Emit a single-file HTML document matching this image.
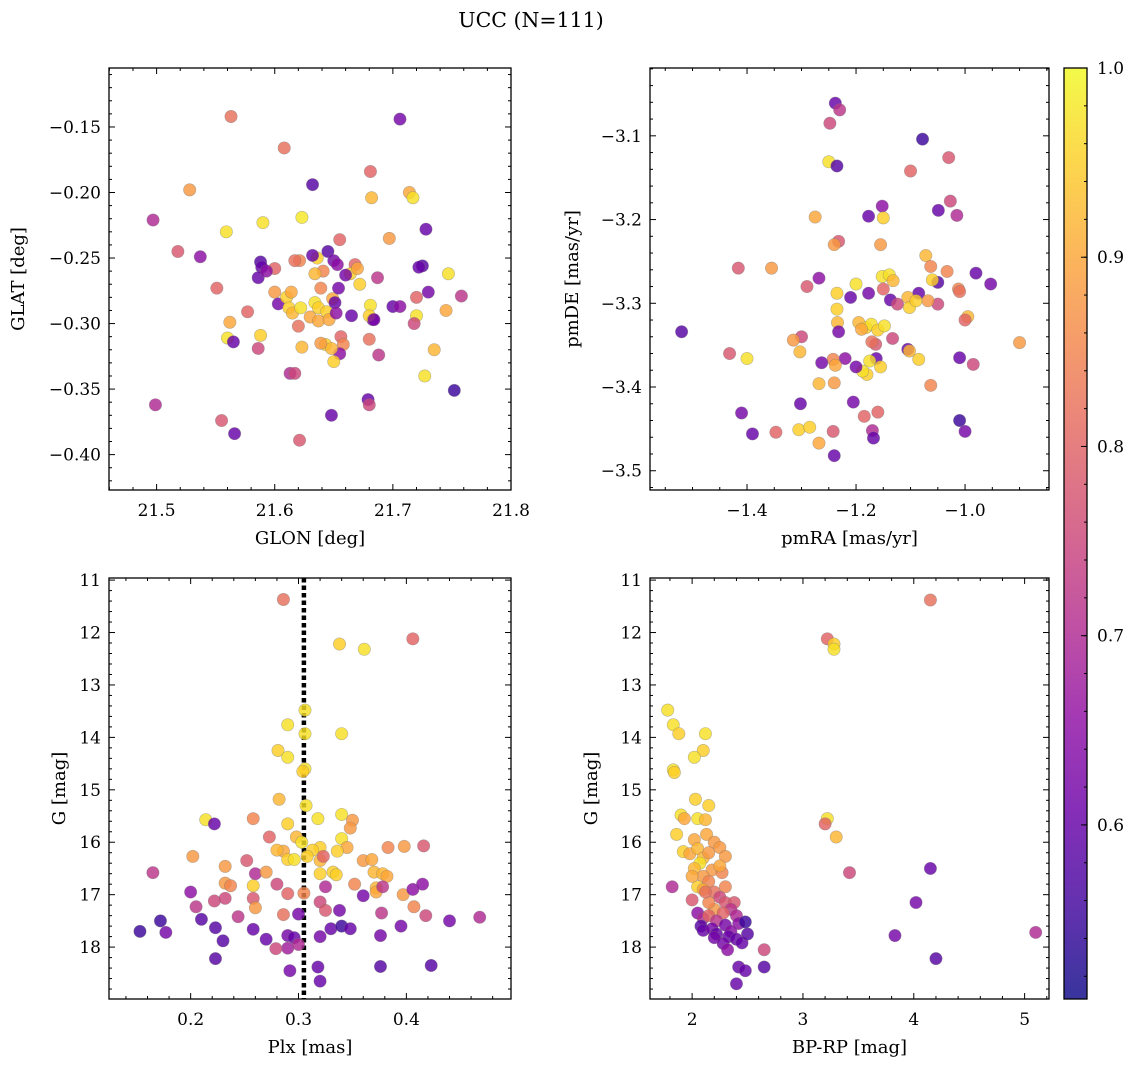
<!DOCTYPE html>
<html><head><meta charset="utf-8"><style>
body{margin:0;background:#fff;}
svg{display:block;font-family:"DejaVu Serif","Liberation Serif",serif;}
</style></head><body>
<svg id="fig" width="1136" height="1067" viewBox="0 0 1136 1067" xmlns="http://www.w3.org/2000/svg">
<text x="531" y="27" font-size="20.5" text-anchor="middle">UCC (N=111)</text>
</svg>
<script>
// ---- data ----
const p1Glon=[21.563,21.706,21.608,21.528,21.632,21.681,21.714,21.717,21.682,21.497,21.559,21.590,21.623,21.728,21.518,21.537,21.600,21.588,21.589,21.621,21.617,21.636,21.645,21.632,21.655,21.697,21.668,21.650,21.653,21.687,21.664,21.670,21.725,21.722,21.747,21.758,21.730,21.720,21.700,21.706,21.681,21.683,21.680,21.720,21.718,21.745,21.735,21.727,21.752,21.680,21.688,21.679,21.680,21.648,21.621,21.566,21.555,21.499,21.551,21.577,21.586,21.588,21.562,21.560,21.565,21.586,21.593,21.600,21.603,21.610,21.612,21.615,21.614,21.622,21.623,21.613,21.617,21.630,21.634,21.637,21.639,21.641,21.637,21.644,21.646,21.649,21.651,21.654,21.652,21.656,21.658,21.655,21.643,21.648,21.639,21.650,21.665,21.684,21.672,21.660,21.620,21.634];
const p1Glat=[-0.142,-0.144,-0.166,-0.198,-0.194,-0.184,-0.200,-0.204,-0.204,-0.221,-0.230,-0.223,-0.219,-0.228,-0.245,-0.249,-0.258,-0.253,-0.257,-0.252,-0.252,-0.250,-0.245,-0.248,-0.236,-0.235,-0.255,-0.252,-0.255,-0.265,-0.262,-0.258,-0.256,-0.257,-0.262,-0.279,-0.276,-0.280,-0.287,-0.287,-0.286,-0.297,-0.294,-0.294,-0.300,-0.290,-0.320,-0.340,-0.351,-0.312,-0.324,-0.358,-0.362,-0.370,-0.389,-0.384,-0.374,-0.362,-0.273,-0.291,-0.319,-0.309,-0.299,-0.311,-0.314,-0.265,-0.260,-0.276,-0.285,-0.280,-0.288,-0.292,-0.276,-0.288,-0.318,-0.338,-0.338,-0.295,-0.284,-0.298,-0.273,-0.260,-0.288,-0.291,-0.297,-0.281,-0.284,-0.273,-0.292,-0.310,-0.316,-0.323,-0.316,-0.319,-0.315,-0.329,-0.294,-0.297,-0.270,-0.263,-0.302,-0.262];
const p1Prob=[.82,.62,.82,.88,.58,.8,.9,.97,.92,.7,.97,.97,.98,.6,.78,.65,.8,.58,.6,.85,.82,.95,.58,.6,.8,.88,.8,.62,.65,.72,.95,.9,.58,.6,.97,.72,.62,.8,.6,.65,.97,.62,.95,.97,.75,.9,.92,.97,.55,.82,.72,.6,.75,.6,.78,.6,.78,.7,.8,.8,.75,.95,.9,.97,.6,.6,.65,.88,.62,.95,.95,.92,.9,.97,.92,.7,.75,.9,.97,.9,.85,.85,.95,.95,.9,.9,.6,.62,.65,.8,.85,.65,.95,.92,.88,.95,.6,.62,.95,.62,.82,.92];

const p2PmRA=[-1.238,-1.230,-1.248,-1.078,-1.250,-1.235,-1.030,-1.100,-1.152,-1.150,-1.049,-1.027,-1.015,-1.177,-1.275,-1.232,-1.240,-1.155,-1.416,-1.355,-1.072,-1.063,-1.033,-0.980,-0.953,-1.050,-1.060,-1.012,-1.010,-1.200,-1.210,-1.235,-1.268,-1.290,-1.152,-1.139,-1.132,-1.150,-1.177,-1.085,-1.105,-1.137,-1.124,-1.102,-1.090,-1.050,-1.068,-0.900,-0.995,-1.000,-1.235,-1.234,-1.232,-1.195,-1.182,-1.172,-1.160,-1.148,-1.190,-1.164,-1.171,-1.163,-1.175,-1.155,-1.180,-1.188,-1.200,-1.220,-1.242,-1.238,-1.240,-1.300,-1.315,-1.303,-1.263,-1.268,-1.432,-1.400,-1.520,-1.410,-1.390,-1.347,-1.302,-1.305,-1.285,-1.268,-1.240,-1.242,-1.205,-1.185,-1.160,-1.170,-1.168,-1.105,-1.102,-1.085,-1.063,-1.010,-1.010,-1.000,-0.985,-1.133];
const p2PmDE=[-3.061,-3.069,-3.085,-3.104,-3.131,-3.136,-3.126,-3.142,-3.184,-3.198,-3.189,-3.178,-3.195,-3.196,-3.197,-3.226,-3.230,-3.230,-3.258,-3.258,-3.243,-3.256,-3.262,-3.264,-3.277,-3.275,-3.272,-3.283,-3.286,-3.277,-3.293,-3.288,-3.270,-3.280,-3.268,-3.266,-3.273,-3.283,-3.288,-3.288,-3.293,-3.296,-3.301,-3.305,-3.297,-3.301,-3.297,-3.347,-3.316,-3.320,-3.307,-3.323,-3.334,-3.323,-3.329,-3.325,-3.332,-3.327,-3.331,-3.349,-3.346,-3.366,-3.369,-3.376,-3.385,-3.381,-3.376,-3.366,-3.367,-3.374,-3.395,-3.340,-3.344,-3.358,-3.371,-3.396,-3.360,-3.366,-3.334,-3.431,-3.456,-3.454,-3.420,-3.451,-3.448,-3.467,-3.482,-3.453,-3.418,-3.435,-3.430,-3.452,-3.461,-3.355,-3.357,-3.367,-3.398,-3.365,-3.440,-3.453,-3.373,-3.342];
const p2Prob=[.6,.72,.75,.55,.97,.58,.78,.8,.65,.95,.6,.75,.7,.6,.9,.78,.88,.88,.78,.88,.92,.85,.85,.6,.62,.58,.95,.85,.82,.97,.6,.95,.65,.78,.97,.97,.92,.8,.62,.6,.92,.6,.75,.95,.95,.75,.88,.88,.92,.8,.95,.92,.62,.92,.95,.97,.95,.97,.9,.78,.82,.6,.97,.95,.95,.97,.62,.65,.85,.9,.88,.75,.88,.92,.62,.92,.78,.97,.58,.62,.6,.8,.6,.95,.95,.9,.6,.78,.62,.8,.8,.7,.6,.6,.92,.95,.85,.6,.55,.62,.75,.75];

const p3Plx=[0.286,0.406,0.338,0.361,0.306,0.290,0.340,0.306,0.281,0.290,0.306,0.304,0.282,0.307,0.214,0.222,0.258,0.340,0.318,0.350,0.348,0.290,0.273,0.298,0.303,0.340,0.345,0.320,0.313,0.336,0.286,0.280,0.290,0.296,0.308,0.320,0.323,0.360,0.368,0.383,0.398,0.416,0.202,0.232,0.252,0.165,0.260,0.280,0.232,0.237,0.258,0.270,0.332,0.335,0.320,0.370,0.378,0.382,0.372,0.372,0.352,0.325,0.360,0.397,0.378,0.406,0.415,0.305,0.290,0.200,0.205,0.222,0.244,0.232,0.258,0.260,0.286,0.320,0.325,0.300,0.338,0.377,0.407,0.418,0.440,0.468,0.172,0.177,0.153,0.210,0.223,0.230,0.223,0.258,0.270,0.290,0.296,0.290,0.300,0.320,0.330,0.340,0.318,0.320,0.292,0.376,0.395,0.376,0.423,0.279,0.348];
const p3G=[11.37,12.12,12.22,12.32,13.48,13.76,13.93,13.93,14.25,14.38,14.60,14.65,15.18,15.30,15.57,15.65,15.55,15.47,15.55,15.58,15.73,15.65,15.90,15.90,16.00,15.93,16.10,16.10,16.15,16.17,16.17,16.15,16.33,16.33,16.27,16.35,16.27,16.35,16.33,16.10,16.08,16.07,16.27,16.46,16.35,16.58,16.60,16.80,16.78,16.83,16.83,16.57,16.57,16.62,16.60,16.57,16.60,16.65,16.87,16.95,16.80,16.85,17.02,17.00,16.85,16.90,16.80,16.97,16.98,16.95,17.23,17.12,17.42,17.07,17.07,17.25,17.38,17.14,17.30,17.37,17.30,17.35,17.23,17.40,17.50,17.43,17.50,17.72,17.70,17.47,17.63,17.88,18.22,17.66,17.85,17.78,17.82,18.02,17.95,17.80,17.65,17.60,18.38,18.65,18.45,17.78,17.60,18.37,18.35,18.03,17.65];
const p3Prob=[.82,.8,.95,.97,.97,.97,.97,.97,.95,.97,.97,.95,.92,.97,.97,.6,.85,.97,.97,.88,.88,.95,.8,.92,.97,.97,.9,.95,.95,.95,.9,.92,.95,.97,.95,.92,.8,.88,.9,.85,.88,.78,.88,.88,.78,.72,.7,.75,.88,.85,.95,.88,.95,.95,.95,.92,.92,.9,.92,.9,.85,.7,.62,.88,.72,.65,.65,.85,.8,.65,.72,.75,.72,.75,.78,.88,.82,.75,.78,.62,.62,.72,.85,.75,.62,.7,.55,.62,.55,.58,.58,.58,.58,.6,.6,.62,.6,.68,.7,.62,.6,.55,.6,.6,.62,.62,.62,.58,.58,.75,.6];
const plxMean=[0.305];

const p4Color=[4.15,3.22,3.28,3.28,1.78,1.83,2.12,1.88,2.10,2.02,1.83,1.84,1.90,2.03,2.15,2.05,1.93,2.12,3.22,3.20,3.30,1.86,2.02,2.13,2.20,1.92,1.98,2.05,2.10,2.15,2.25,2.30,2.07,2.02,2.18,2.27,2.10,2.15,2.05,2.10,2.20,2.30,1.82,3.42,2.25,2.30,2.38,2.35,2.20,2.28,2.00,2.05,2.10,2.15,2.22,2.40,2.42,2.48,2.08,2.10,2.18,2.22,2.30,2.35,2.33,2.40,2.45,2.20,2.28,2.32,2.65,2.42,2.48,2.40,2.65,4.15,4.02,3.83,4.20,5.10,2.50,2.15,2.25,2.00,2.12];
const p4G=[11.38,12.12,12.22,12.32,13.48,13.76,13.93,13.93,14.25,14.38,14.62,14.67,15.48,15.18,15.30,15.55,15.55,15.57,15.55,15.65,15.90,15.85,15.95,15.85,16.0,16.18,16.22,16.12,16.3,16.20,16.10,16.27,16.40,16.50,16.53,16.58,16.65,16.75,16.85,16.90,16.95,16.85,16.85,16.58,17.05,17.15,17.15,17.28,17.28,17.35,17.10,17.35,17.45,17.40,17.50,17.40,17.55,17.52,17.60,17.68,17.65,17.75,17.58,17.70,17.80,17.85,17.92,17.82,17.93,18.05,18.05,18.38,18.45,18.70,18.38,16.5,17.15,17.78,18.22,17.72,17.75,17.15,16.45,16.65,16.95];
const p4Prob=[.82,.8,.95,.97,.97,.97,.97,.95,.95,.97,.97,.95,.97,.95,.95,.97,.9,.92,.97,.8,.92,.95,.9,.9,.88,.95,.9,.92,.92,.88,.88,.88,.97,.92,.88,.85,.88,.85,.95,.9,.82,.85,.7,.75,.75,.78,.78,.72,.88,.8,.78,.65,.7,.8,.72,.7,.65,.55,.58,.6,.62,.6,.62,.65,.6,.6,.6,.62,.62,.65,.75,.6,.6,.6,.58,.6,.62,.62,.58,.7,.58,.85,.9,.9,.82];

const cbTicks=[0.6,0.7,0.8,0.9,1.0];

// ---- colormap (plasma) ----
const stops=["#0d0887","#41049d","#6a00a8","#8f0da4","#b12a90","#cc4778","#e16462","#f2844b","#fca636","#fcce25","#f0f921"];
function hx(h){return [1,3,5].map(i=>parseInt(h.substr(i,2),16));}
const VMIN=0.508,VMAX=1.0;
function cmap(v){let t=Math.max(0,Math.min(1,(v-VMIN)/(VMAX-VMIN)))*10;let i=Math.min(9,Math.floor(t)),f=t-i;
 const a=hx(stops[i]),b=hx(stops[i+1]);return "rgb("+a.map((c,k)=>Math.round(c+(b[k]-c)*f)).join(",")+")";}

const NS="http://www.w3.org/2000/svg";
const svg=document.getElementById('fig');
const TF=17, LF=18;
function mk(tag,attrs,parent){const e=document.createElementNS(NS,tag);for(const k in attrs)e.setAttribute(k,attrs[k]);(parent||svg).appendChild(e);return e;}
function fmt(v,d){const s=Math.abs(v).toFixed(d);return (v<-1e-9?"\u2212":"")+s;}

function panel(cfg){
 const g=mk('g',{});
 
 
 const X=v=>cfg.x0+(v-cfg.xmin)/(cfg.xmax-cfg.xmin)*(cfg.x1-cfg.x0);
 const Y=v=>cfg.y0+(v-cfg.ytop)/(cfg.ybot-cfg.ytop)*(cfg.y1-cfg.y0);
 if(cfg.vline){const l=mk('line',{x1:X(cfg.vline[0]),x2:X(cfg.vline[0]),y1:cfg.y0,y2:cfg.y1,stroke:'#000','stroke-width':4.5,'stroke-dasharray':'4.5,3'},g);
  
  }
 for(let i=0;i<cfg.xs.length;i++){
  const c=mk('circle',{cx:X(cfg.xs[i]),cy:Y(cfg.ys[i]),r:6.2,fill:cmap(cfg.ps[i]),'fill-opacity':0.82,stroke:'#777','stroke-opacity':0.5,'stroke-width':0.6},g);
  
  
 }
 const fr=mk('rect',{x:cfg.x0,y:cfg.y0,width:cfg.x1-cfg.x0,height:cfg.y1-cfg.y0,fill:'none',stroke:'#000','stroke-width':1.3},g);
 
 
 for(let v=cfg.xminor0;v<=cfg.xmax+1e-9;v+=cfg.xminor){const x=X(v);if(x<cfg.x0-0.5||x>cfg.x1+0.5)continue;
  const maj=Math.abs(v/cfg.xmajor-Math.round(v/cfg.xmajor))<1e-6;const L=maj?6:3;
  mk('line',{x1:x,x2:x,y1:cfg.y1,y2:cfg.y1-L,stroke:'#000','stroke-width':1},g);
  mk('line',{x1:x,x2:x,y1:cfg.y0,y2:cfg.y0+L,stroke:'#000','stroke-width':1},g);
  if(maj){const t=mk('text',{x:x,y:cfg.y1+26,'font-size':TF,'text-anchor':'middle'},g);t.textContent=fmt(v,cfg.xd);
   
   }
 }
 for(let v=cfg.yminor0;v<=Math.max(cfg.ytop,cfg.ybot)+1e-9;v+=cfg.yminor){const y=Y(v);if(y<cfg.y0-0.5||y>cfg.y1+0.5)continue;
  const maj=Math.abs(v/cfg.ymajor-Math.round(v/cfg.ymajor))<1e-6;const L=maj?6:3;
  mk('line',{x1:cfg.x0,x2:cfg.x0+L,y1:y,y2:y,stroke:'#000','stroke-width':1},g);
  mk('line',{x1:cfg.x1,x2:cfg.x1-L,y1:y,y2:y,stroke:'#000','stroke-width':1},g);
  if(maj){const t=mk('text',{x:cfg.x0-8,y:y+6,'font-size':TF,'text-anchor':'end'},g);t.textContent=fmt(v,cfg.yd);
   
   }
 }
 const xl=mk('text',{x:(cfg.x0+cfg.x1)/2,y:cfg.y1+54,'font-size':LF,'text-anchor':'middle'},g);xl.textContent=cfg.xlabel;
 
 
 const yx=cfg.ylx, yy=(cfg.y0+cfg.y1)/2;
 const yl=mk('text',{x:yx,y:yy,'font-size':LF,'text-anchor':'middle',transform:`rotate(-90 ${yx} ${yy})`},g);yl.textContent=cfg.ylabel;
 
 
}

panel({name:'panel-glon-glat',x0:109,x1:511,y0:68,y1:490,xmin:21.4597,xmax:21.8,ytop:-0.105,ybot:-0.427,
 xs:p1Glon,ys:p1Glat,ps:p1Prob,xmajor:0.1,xminor:0.02,xminor0:21.46,xd:1,ymajor:0.05,yminor:0.01,yminor0:-0.42,yd:2,
 xlabel:'GLON [deg]',ylabel:'GLAT [deg]',ylx:24});
panel({name:'panel-pmra-pmde',x0:650,x1:1049,y0:68,y1:490,xmin:-1.578,xmax:-0.846,ytop:-3.019,ybot:-3.523,
 xs:p2PmRA,ys:p2PmDE,ps:p2Prob,xmajor:0.2,xminor:0.05,xminor0:-1.55,xd:1,ymajor:0.1,yminor:0.02,yminor0:-3.52,yd:1,
 xlabel:'pmRA [mas/yr]',ylabel:'pmDE [mas/yr]',ylx:578});
panel({name:'panel-plx-g',x0:109,x1:511,y0:578,y1:999,xmin:0.1243,xmax:0.497,ytop:10.96,ybot:18.99,
 xs:p3Plx,ys:p3G,ps:p3Prob,vline:plxMean,xmajor:0.1,xminor:0.02,xminor0:0.14,xd:1,ymajor:1,yminor:0.2,yminor0:11,yd:0,
 xlabel:'Plx [mas]',ylabel:'G [mag]',ylx:65});
panel({name:'panel-color-magnitude',x0:650,x1:1049,y0:578,y1:999,xmin:1.62,xmax:5.22,ytop:10.96,ybot:18.99,
 xs:p4Color,ys:p4G,ps:p4Prob,xmajor:1,xminor:0.2,xminor0:1.8,xd:0,ymajor:1,yminor:0.2,yminor0:11,yd:0,
 xlabel:'BP-RP [mag]',ylabel:'G [mag]',ylx:597});

(function(){
 const cx0=1064,cx1=1087,cy0=68,cy1=999;
 const g=mk('g',{});
 
 
 const defs=mk('defs',{},g);
 const lg=mk('linearGradient',{id:'cbg',x1:0,y1:1,x2:0,y2:0},defs);
 for(let i=0;i<=20;i++){const v=VMIN+(VMAX-VMIN)*i/20;mk('stop',{offset:i/20,'stop-color':cmap(v)},lg);}
 const r=mk('rect',{x:cx0,y:cy0,width:cx1-cx0,height:cy1-cy0,fill:'url(#cbg)','fill-opacity':0.82},g);
 
 
 mk('rect',{x:cx0,y:cy0,width:cx1-cx0,height:cy1-cy0,fill:'none',stroke:'#000','stroke-width':1.3},g);
 const Y=v=>cy1-(v-VMIN)/(VMAX-VMIN)*(cy1-cy0);
 for(const v of cbTicks){const y=Y(v);
  mk('line',{x1:cx1,x2:cx1-6,y1:y,y2:y,stroke:'#000','stroke-width':1},g);
  const t=mk('text',{x:cx1+10,y:y+6,'font-size':TF},g);t.textContent=v.toFixed(1);
  
  }
 for(let v=0.52;v<=1.0001;v+=0.02){const y=Y(v);mk('line',{x1:cx1,x2:cx1-3,y1:y,y2:y,stroke:'#000','stroke-width':1},g);}
})();
</script>
</body></html>
